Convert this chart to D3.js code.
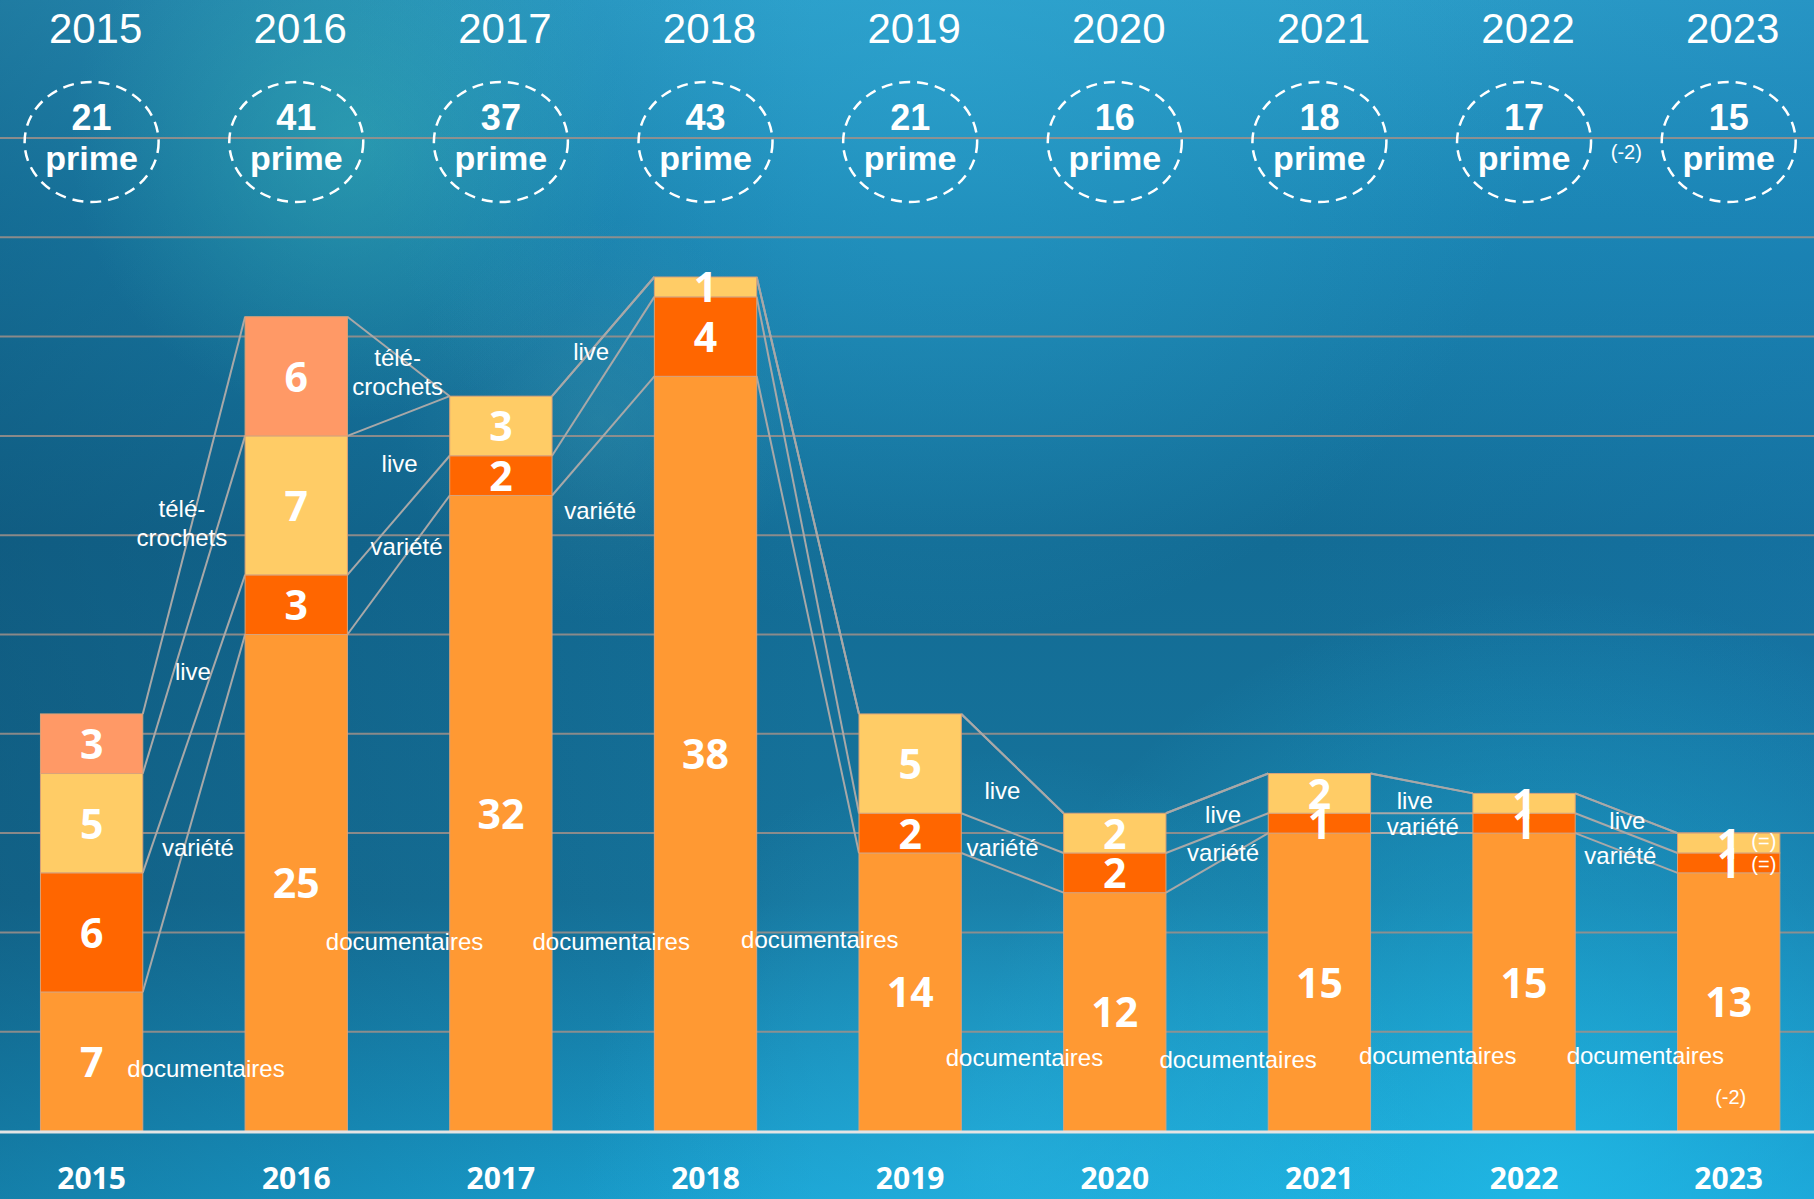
<!DOCTYPE html>
<html>
<head>
<meta charset="utf-8">
<script src="https://cdn.jsdelivr.net/npm/d3@7"></script>
<style>
  body { margin: 0; background: #1a7aa5; }
  svg { display: block; }
</style>
</head>
<body>
<svg></svg>
<script>
const width = 1814,
    height = 1199;

// data
const years = ["2015", "2016", "2017", "2018", "2019", "2020", "2021", "2022", "2023"];
const documentaires = [7, 25, 32, 38, 14, 12, 15, 15, 13];
const variete = [6, 3, 2, 4, 2, 2, 1, 1, 1];
const live = [5, 7, 3, 1, 5, 2, 2, 1, 1];
const teleCrochets = [3, 6, 0, 0, 0, 0, 0, 0, 0];
const primeTotals = [21, 41, 37, 43, 21, 16, 18, 17, 15];
const gridValues = [5, 10, 15, 20, 25, 30, 35, 40, 45, 50];

const keys = ["documentaires", "variete", "live", "tele"];
const colors = {
    documentaires: "#ff9933",
    variete: "#ff6600",
    live: "#ffcc66",
    tele: "#ff9966"
};

// series labels in the gaps: gap = bar index on the left, v = height in chart units
const gapLabels = [
    { gap: 0, dx: -12, v: 31.3, lines: ["télé-", "crochets"] },
    { gap: 0, dx: -1, v: 23.1, lines: ["live"] },
    { gap: 0, dx: 4, v: 14.25, lines: ["variété"] },
    { gap: 0, dx: 12, v: 3.1, lines: ["documentaires"] },
    { gap: 1, dx: -1, v: 38.9, lines: ["télé-", "crochets"] },
    { gap: 1, dx: 1, v: 33.6, lines: ["live"] },
    { gap: 1, dx: 8, v: 29.4, lines: ["variété"] },
    { gap: 1, dx: 6, v: 9.5, lines: ["documentaires"] },
    { gap: 2, dx: -12, v: 39.2, lines: ["live"] },
    { gap: 2, dx: -3, v: 31.2, lines: ["variété"] },
    { gap: 2, dx: 8, v: 9.5, lines: ["documentaires"] },
    { gap: 3, dx: 12, v: 9.6, lines: ["documentaires"] },
    { gap: 4, dx: -10, v: 17.1, lines: ["live"] },
    { gap: 4, dx: -10, v: 14.25, lines: ["variété"] },
    { gap: 4, dx: 12, v: 3.7, lines: ["documentaires"] },
    { gap: 5, dx: 6, v: 15.9, lines: ["live"] },
    { gap: 5, dx: 6, v: 14.0, lines: ["variété"] },
    { gap: 5, dx: 21, v: 3.6, lines: ["documentaires"] },
    { gap: 6, dx: -7, v: 16.6, lines: ["live"] },
    { gap: 6, dx: 1, v: 15.3, lines: ["variété"] },
    { gap: 6, dx: 16, v: 3.8, lines: ["documentaires"] },
    { gap: 7, dx: 1, v: 15.6, lines: ["live"] },
    { gap: 7, dx: -6, v: 13.85, lines: ["variété"] },
    { gap: 7, dx: 19, v: 3.8, lines: ["documentaires"] }
];

const rows = years.map((y, i) => ({
    year: y,
    documentaires: documentaires[i],
    variete: variete[i],
    live: live[i],
    tele: teleCrochets[i]
}));
const series = d3.stack().keys(keys)(rows);

const x = d3.scaleBand()
    .domain(years)
    .range([-10.7, 1831])
    .paddingInner(0.5)
    .paddingOuter(0.25);
const y = d3.scaleLinear().domain([0, 50]).range([1131, 138]);
const bw = x.bandwidth();

const svg = d3.select("svg")
    .attr("width", width)
    .attr("height", height);

// background
const defs = svg.append("defs");
const bg = defs.append("linearGradient").attr("id", "bg")
    .attr("x1", 0).attr("y1", 0).attr("x2", 0).attr("y2", 1);
[["0%", "#2b9cc6"], ["18%", "#1b86b3"], ["45%", "#136c95"], ["75%", "#16749c"], ["100%", "#1aa3d3"]]
    .forEach(s => bg.append("stop").attr("offset", s[0]).attr("stop-color", s[1]));

const shade = defs.append("linearGradient").attr("id", "shade")
    .attr("x1", 0).attr("y1", 0).attr("x2", 1).attr("y2", 0);
shade.append("stop").attr("offset", "0%").attr("stop-color", "#0a3f5e").attr("stop-opacity", 0.35);
shade.append("stop").attr("offset", "45%").attr("stop-color", "#0a3f5e").attr("stop-opacity", 0);
shade.append("stop").attr("offset", "70%").attr("stop-color", "#1a7fc0").attr("stop-opacity", 0);
shade.append("stop").attr("offset", "100%").attr("stop-color", "#1a7fc0").attr("stop-opacity", 0.25);

const glows = [
    { id: "g1", cx: 1550, cy: 1190, r: 600, color: "#22c3ee", op: 0.65 },
    { id: "g2", cx: 1000, cy: 1170, r: 420, color: "#2ab6e2", op: 0.5 },
    { id: "g3", cx: 350, cy: 140, r: 280, color: "#3ab8b8", op: 0.45 },
    { id: "g4", cx: 950, cy: 40, r: 600, color: "#2fa9d6", op: 0.45 },
    { id: "g5", cx: 600, cy: 420, r: 200, color: "#4aa0b0", op: 0.25 }
];
glows.forEach(g => {
    const rg = defs.append("radialGradient").attr("id", g.id)
        .attr("gradientUnits", "userSpaceOnUse")
        .attr("cx", g.cx).attr("cy", g.cy).attr("r", g.r);
    rg.append("stop").attr("offset", "0%").attr("stop-color", g.color).attr("stop-opacity", g.op);
    rg.append("stop").attr("offset", "100%").attr("stop-color", g.color).attr("stop-opacity", 0);
});

svg.append("rect").attr("width", width).attr("height", height).attr("fill", "url(#bg)");
svg.append("rect").attr("width", width).attr("height", height).attr("fill", "url(#shade)");
glows.forEach(g => {
    svg.append("rect").attr("width", width).attr("height", height).attr("fill", `url(#${g.id})`);
});

// gridlines
svg.append("g")
    .selectAll("line")
    .data(gridValues)
    .join("line")
    .attr("x1", 0)
    .attr("x2", width)
    .attr("y1", d => y(d))
    .attr("y2", d => y(d))
    .attr("stroke", "#a0908a")
    .attr("stroke-opacity", 0.85)
    .attr("stroke-width", 2);

// connector lines between neighbouring bars
const links = [];
series.forEach(s => {
    for (let i = 0; i < years.length - 1; i++) {
        links.push({
            x1: x(years[i]) + bw,
            y1: y(s[i][1]),
            x2: x(years[i + 1]),
            y2: y(s[i + 1][1])
        });
    }
});
svg.append("g")
    .selectAll("line")
    .data(links)
    .join("line")
    .attr("x1", d => d.x1)
    .attr("y1", d => d.y1)
    .attr("x2", d => d.x2)
    .attr("y2", d => d.y2)
    .attr("stroke", "#a8a8a8")
    .attr("stroke-width", 2);

// stacked bars
svg.append("g")
    .selectAll("g")
    .data(series)
    .join("g")
    .attr("fill", d => colors[d.key])
    .selectAll("rect")
    .data(d => d.filter(p => p[1] > p[0]))
    .join("rect")
    .attr("x", d => x(d.data.year))
    .attr("y", d => y(d[1]))
    .attr("width", bw)
    .attr("height", d => y(d[0]) - y(d[1]))
    .attr("stroke", "#d9a37a")
    .attr("stroke-width", 1);

// value labels in segments
const segs = [];
series.forEach(s => s.forEach(p => {
    if (p[1] > p[0]) segs.push({ year: p.data.year, v: p[1] - p[0], mid: (p[0] + p[1]) / 2 });
}));
svg.append("g")
    .selectAll("text")
    .data(segs)
    .join("text")
    .attr("x", d => x(d.year) + bw / 2)
    .attr("y", d => y(d.mid) + 15.5)
    .attr("text-anchor", "middle")
    .attr("fill", "#fff")
    .attr("font-family", "'Open Sans', sans-serif")
    .attr("font-weight", 700)
    .attr("font-size", 41)
    .text(d => d.v);

// series labels
const lab = svg.append("g")
    .attr("fill", "#fff")
    .attr("font-family", "'Liberation Sans', Arial, sans-serif")
    .attr("font-size", 24)
    .attr("text-anchor", "middle");
gapLabels.forEach(l => {
    const cx = x(years[l.gap]) + bw + (x.step() - bw) / 2 + l.dx;
    const t = lab.append("text")
        .attr("x", cx)
        .attr("y", y(l.v) + 8);
    l.lines.forEach((line, j) => {
        t.append("tspan").attr("x", cx).attr("dy", j === 0 ? 0 : 29).text(line);
    });
});

// small change notes on 2023
const last = years[years.length - 1];
const notes = [
    { text: "(=)", v: live[8] / 2 + documentaires[8] + variete[8], dy: 5 },
    { text: "(=)", v: variete[8] / 2 + documentaires[8], dy: 8 }
];
notes.forEach(n => {
    lab.append("text")
        .attr("x", x(last) + bw - 16)
        .attr("y", y(n.v) + n.dy)
        .attr("font-size", 20)
        .text(n.text);
});
lab.append("text")
    .attr("x", x(last) + bw / 2 + 2)
    .attr("y", y(1.35))
    .attr("font-size", 20)
    .text("(-2)");

// baseline
svg.append("line")
    .attr("x1", 0).attr("x2", width)
    .attr("y1", y(0) + 1).attr("y2", y(0) + 1)
    .attr("stroke", "#e4e4e4")
    .attr("stroke-width", 3);

// bottom year axis
svg.append("g")
    .selectAll("text")
    .data(years)
    .join("text")
    .attr("x", d => x(d) + bw / 2)
    .attr("y", 1189)
    .attr("text-anchor", "middle")
    .attr("fill", "#fff")
    .attr("font-family", "'Open Sans', sans-serif")
    .attr("font-weight", 700)
    .attr("font-size", 30)
    .text(d => d);

// top row: years and prime totals in dashed circles
const topRow = svg.append("g")
    .selectAll("g")
    .data(years)
    .join("g")
    .attr("transform", d => `translate(${x(d) + bw / 2},0)`);
topRow.append("text")
    .attr("x", 4)
    .attr("y", 43)
    .attr("text-anchor", "middle")
    .attr("fill", "#fff")
    .attr("font-family", "'Liberation Sans', Arial, sans-serif")
    .attr("font-size", 42)
    .text(d => d);
topRow.append("ellipse")
    .attr("cx", 0)
    .attr("cy", 142)
    .attr("rx", 67)
    .attr("ry", 60)
    .attr("fill", "none")
    .attr("stroke", "#fff")
    .attr("stroke-width", 2.5)
    .attr("stroke-dasharray", "11 7");
topRow.append("text")
    .attr("y", 130)
    .attr("text-anchor", "middle")
    .attr("fill", "#fff")
    .attr("font-family", "'Liberation Sans', Arial, sans-serif")
    .attr("font-weight", 700)
    .attr("font-size", 36)
    .text((d, i) => primeTotals[i]);
topRow.append("text")
    .attr("y", 170)
    .attr("text-anchor", "middle")
    .attr("fill", "#fff")
    .attr("font-family", "'Liberation Sans', Arial, sans-serif")
    .attr("font-weight", 700)
    .attr("font-size", 34)
    .text("prime");

// change between 2022 and 2023 primes
svg.append("text")
    .attr("x", (x(years[7]) + x(years[8]) + bw) / 2)
    .attr("y", 159)
    .attr("text-anchor", "middle")
    .attr("fill", "#fff")
    .attr("font-family", "'Liberation Sans', Arial, sans-serif")
    .attr("font-size", 20)
    .text("(-2)");
</script>
</body>
</html>
